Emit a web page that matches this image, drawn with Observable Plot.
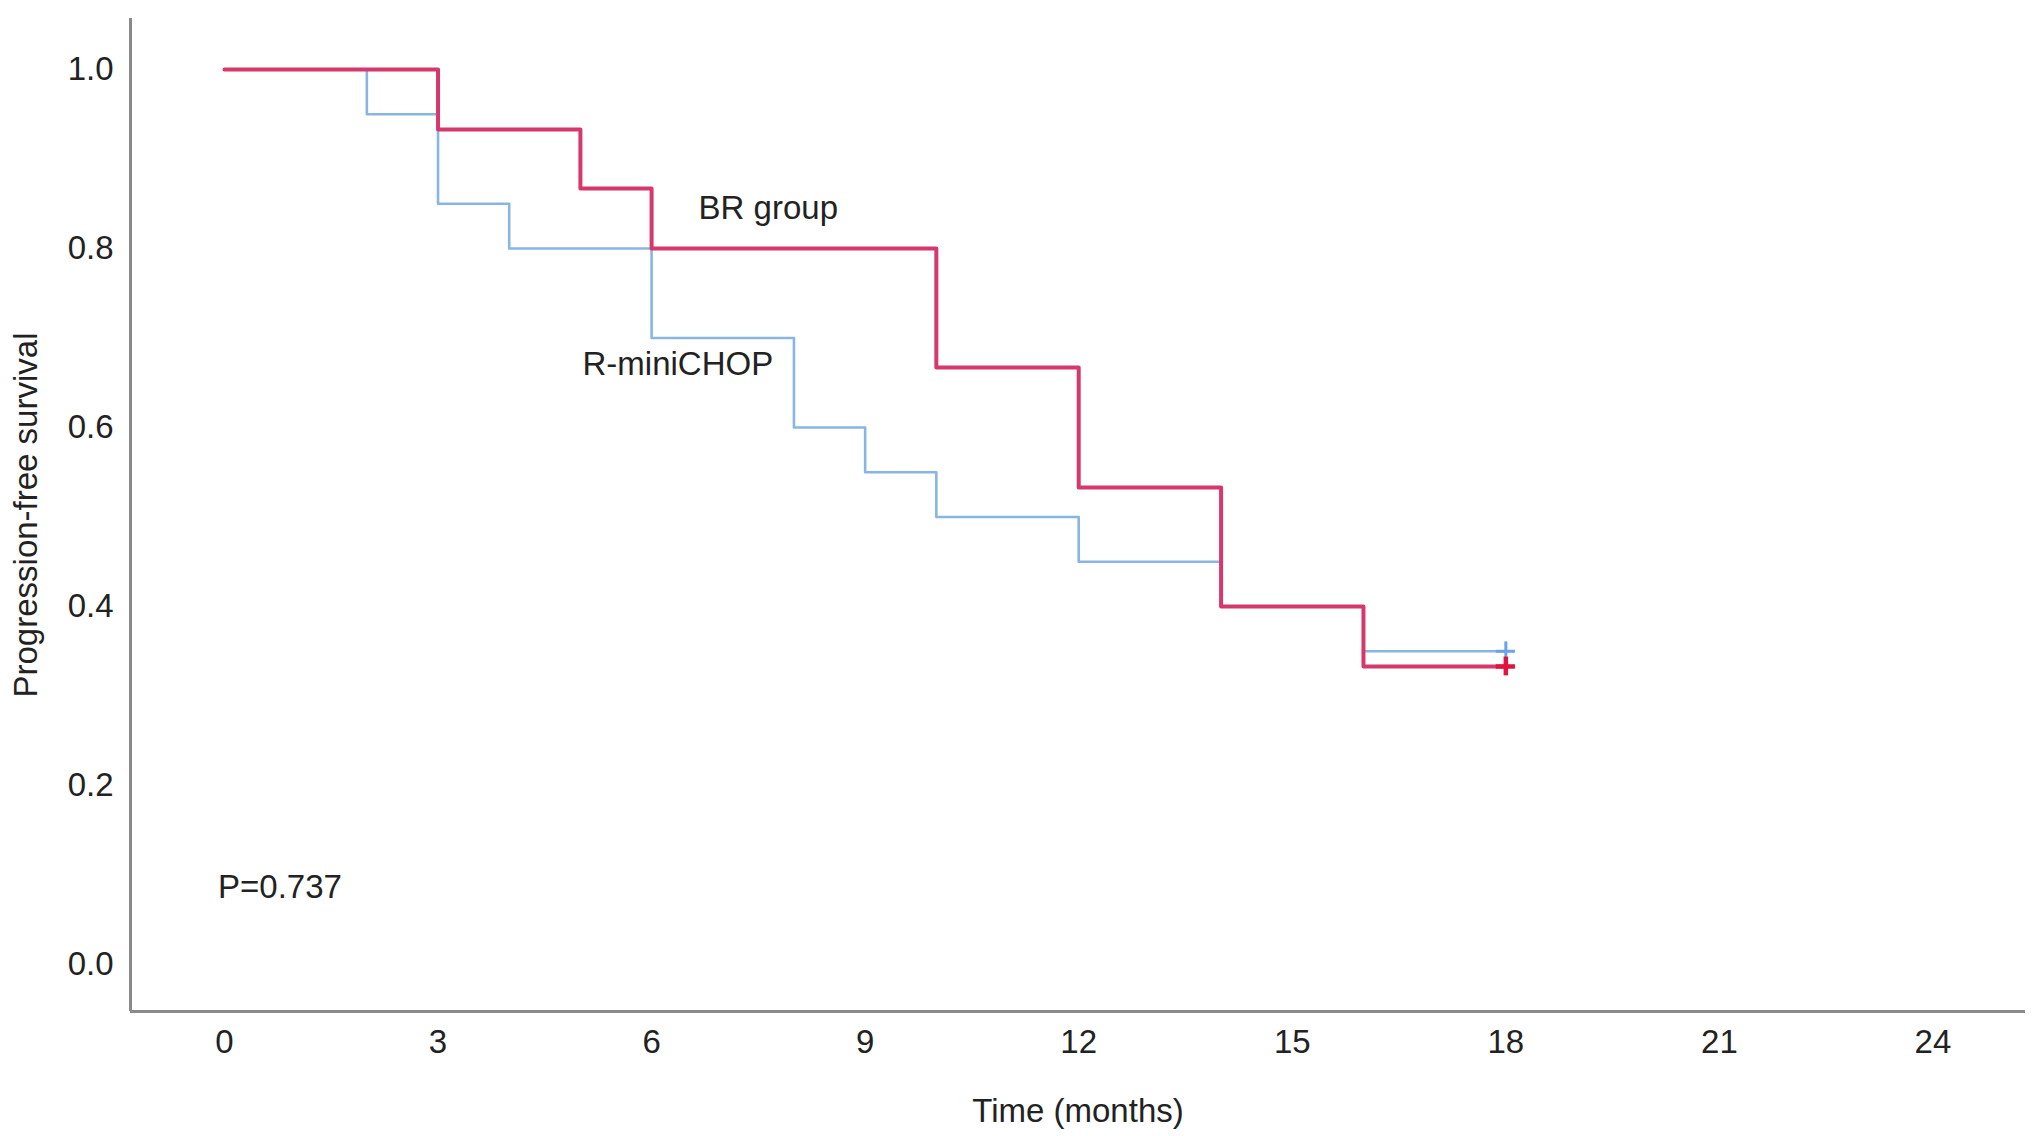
<!DOCTYPE html>
<html>
<head>
<meta charset="utf-8">
<script src="https://cdn.jsdelivr.net/npm/d3@7"></script>
<script src="https://cdn.jsdelivr.net/npm/@observablehq/plot@0.6"></script>
<style>
  html, body { margin: 0; padding: 0; background: #fff; }
</style>
</head>
<body>
<div id="chart"></div>
<script>
// Kaplan–Meier step data
const brTime = [0, 3, 5, 6, 10, 12, 14, 16, 18];
const brSurv = [1.0, 0.933, 0.867, 0.8, 0.667, 0.533, 0.4, 0.333, 0.333];
const chopTime = [0, 2, 3, 4, 6, 8, 9, 10, 12, 14, 16, 18];
const chopSurv = [1.0, 0.95, 0.85, 0.8, 0.7, 0.6, 0.55, 0.5, 0.45, 0.4, 0.35, 0.35];
// censored observations (time, survival)
const brCensor = [{t: 18, s: 0.333}];
const chopCensor = [{t: 18, s: 0.35}];

const xTicks = [0, 3, 6, 9, 12, 15, 18, 21, 24];
const yTicks = [0, 0.2, 0.4, 0.6, 0.8, 1.0];

const labels = [
  {text: "BR group", t: 6.66, s: 0.845},
  {text: "R-miniCHOP", t: 5.03, s: 0.671},
  {text: "P=0.737", t: -0.09, s: 0.086}
];

const xDomain = [-1.32, 25.3];
const yDomain = [-0.0525, 1.057];

// half-size of the censoring "+" in data units
const plusX = 0.135;
const plusY = 0.0105;

const brData = brTime.map((t, i) => ({t, s: brSurv[i]}));
const chopData = chopTime.map((t, i) => ({t, s: chopSurv[i]}));

const RED = "#d6386b";
const BLUE = "#88b6e4";
const AXIS = "#8a8a8a";
const TEXT = "#222222";
const FONT = "'Liberation Sans', Arial, Helvetica, sans-serif";

function censorMarks(data, color, w) {
  return [
    Plot.ruleX(data, {x: "t", y1: d => d.s - plusY, y2: d => d.s + plusY, stroke: color, strokeWidth: w}),
    Plot.ruleY(data, {y: "s", x1: d => d.t - plusX, x2: d => d.t + plusX, stroke: color, strokeWidth: w})
  ];
}

const chart = Plot.plot({
  width: 2032,
  height: 1136,
  marginLeft: 130,
  marginRight: 7,
  marginTop: 18,
  marginBottom: 125,
  style: {fontFamily: FONT, fontSize: "33px", color: TEXT, background: "#fff"},
  x: {domain: xDomain, ticks: xTicks, tickSize: 0, tickPadding: 18, label: null, tickFormat: d => String(d)},
  y: {domain: yDomain, ticks: yTicks, tickSize: 0, tickPadding: 17, label: null, tickFormat: d3.format(".1f")},
  marks: [
    Plot.ruleX([xDomain[0]], {stroke: AXIS, strokeWidth: 3}),
    Plot.ruleY([yDomain[0]], {stroke: AXIS, strokeWidth: 3}),
    Plot.line(chopData, {x: "t", y: "s", curve: "step-after", stroke: BLUE, strokeWidth: 2.6}),
    Plot.line(brData, {x: "t", y: "s", curve: "step-after", stroke: RED, strokeWidth: 4}),
    ...censorMarks(chopCensor, "#6aa3e8", 3),
    ...censorMarks(brCensor, "#e0143f", 4.5),
    Plot.text(labels, {x: "t", y: "s", text: "text", textAnchor: "start", fill: TEXT, fontSize: 33}),
    Plot.text(["Progression-free survival"], {frameAnchor: "left", textAnchor: "middle", lineAnchor: "middle", dx: -104, rotate: -90, fill: TEXT, fontSize: 33}),
    Plot.text(["Time (months)"], {frameAnchor: "bottom", textAnchor: "middle", lineAnchor: "middle", dy: 100, fill: TEXT, fontSize: 33})
  ]
});
document.getElementById("chart").appendChild(chart);
</script>
</body>
</html>
